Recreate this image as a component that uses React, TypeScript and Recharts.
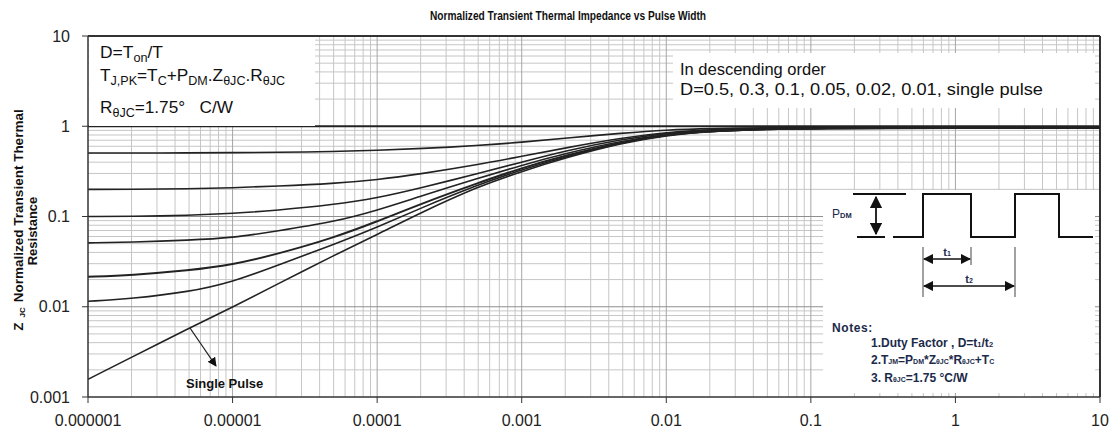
import React from "react";
import { LineChart, Line, XAxis, YAxis, ReferenceLine } from "recharts";

// pulse width (s)
const pulseWidth = [
  1e-6, 2e-6, 5e-6, 1e-5, 2e-5, 5e-5, 1e-4, 2e-4, 5e-4, 1e-3, 2e-3, 5e-3, 1e-2,
  2e-2, 5e-2, 0.1, 1, 10,
];

// normalized Zth, top to bottom
const zD05 = [0.505, 0.505, 0.507, 0.51, 0.513, 0.525, 0.54, 0.565, 0.61, 0.665, 0.74, 0.84, 0.91, 0.945, 0.962, 0.967, 0.972, 0.972];
const zD03 = [0.2, 0.2, 0.203, 0.208, 0.217, 0.232, 0.255, 0.296, 0.375, 0.465, 0.575, 0.745, 0.855, 0.92, 0.95, 0.958, 0.965, 0.965];
const zD01 = [0.1, 0.1, 0.103, 0.108, 0.117, 0.135, 0.16, 0.207, 0.3, 0.4, 0.535, 0.72, 0.84, 0.905, 0.942, 0.953, 0.962, 0.962];
const zD005 = [0.051, 0.052, 0.0546, 0.058, 0.0687, 0.087, 0.117, 0.168, 0.265, 0.37, 0.5, 0.69, 0.815, 0.89, 0.935, 0.95, 0.96, 0.96];
const zD002 = [0.0215, 0.0224, 0.0252, 0.0291, 0.038, 0.058, 0.088, 0.138, 0.236, 0.345, 0.475, 0.672, 0.806, 0.884, 0.93, 0.948, 0.959, 0.959];
const zD001 = [0.0115, 0.0123, 0.0146, 0.0188, 0.0285, 0.049, 0.076, 0.124, 0.225, 0.33, 0.46, 0.665, 0.8, 0.88, 0.928, 0.947, 0.958, 0.958];
const zSingle = [0.00157, 0.00275, 0.0058, 0.0099, 0.0175, 0.037, 0.063, 0.11, 0.215, 0.316, 0.447, 0.655, 0.795, 0.875, 0.925, 0.945, 0.957, 0.957];

const xTicks = [1e-6, 1e-5, 1e-4, 1e-3, 1e-2, 0.1, 1, 10];
const xTickLabels = ["0.000001", "0.00001", "0.0001", "0.001", "0.01", "0.1", "1", "10"];
const yTicks = [0.001, 0.01, 0.1, 1, 10];
const yTickLabels = ["0.001", "0.01", "0.1", "1", "10"];

const seriesKeys = ["d05", "d03", "d01", "d005", "d002", "d001", "single"];

const data = pulseWidth.map((t, i) => ({
  t,
  d05: zD05[i],
  d03: zD03[i],
  d01: zD01[i],
  d005: zD005[i],
  d002: zD002[i],
  d001: zD001[i],
  single: zSingle[i],
}));

// log grid positions
const minorX: number[] = [];
for (let e = -6; e < 1; e++)
  for (let m = 2; m <= 9; m++) minorX.push(Number((m * Math.pow(10, e)).toPrecision(3)));
const majorX = [1e-5, 1e-4, 1e-3, 1e-2, 0.1, 1];
const minorY: number[] = [];
for (let e = -3; e < 1; e++)
  for (let m = 2; m <= 9; m++) minorY.push(Number((m * Math.pow(10, e)).toPrecision(3)));
const majorY = [0.01, 0.1];

const FONT = '"Liberation Sans", Arial, sans-serif';
const NAVY = "#1b2a4a";

const Overlay = () => (
  <svg
    width={1110}
    height={426}
    style={{ position: "absolute", left: 0, top: 0, pointerEvents: "none" }}
    fontFamily={FONT}
  >
    <defs>
      <marker id="ah" viewBox="0 0 10 10" refX="9" refY="5" markerWidth="7" markerHeight="7" orient="auto-start-reverse">
        <path d="M0,0 L10,5 L0,10 z" fill="#111" />
      </marker>
    </defs>

    <text x={560} y={12} textAnchor="middle" fontSize={12} fontWeight="bold" textLength={276} lengthAdjust="spacingAndGlyphs" fill="#111">
      Normalized Transient Thermal Impedance vs Pulse Width
    </text>

    {/* y axis title */}
    <text transform="translate(15,212) rotate(-90)" textAnchor="middle" fontSize={13.5} fontWeight="bold" fill="#111">
      Z<tspan fontSize={8} dy={2} dx={5}>JC</tspan>
      <tspan dy={-2} dx={5}>Normalized Transient Thermal</tspan>
    </text>
    <text transform="translate(29,223) rotate(-90)" textAnchor="middle" fontSize={13} fontWeight="bold" fill="#111">
      Resistance
    </text>

    {/* top-left box */}
    <rect x={81} y={29} width={226} height={89} fill="#fff" />
    <g fontSize={16.5} fill="#111">
      <text x={92} y={50} textLength={63} lengthAdjust="spacingAndGlyphs">
        D=T<tspan fontSize={12} dy={4}>on</tspan>
        <tspan dy={-4}>/T</tspan>
      </text>
      <text x={92} y={73} textLength={185} lengthAdjust="spacingAndGlyphs">
        T<tspan fontSize={12} dy={4}>J,PK</tspan>
        <tspan dy={-4}>=T</tspan>
        <tspan fontSize={12} dy={4}>C</tspan>
        <tspan dy={-4}>+P</tspan>
        <tspan fontSize={12} dy={4}>DM</tspan>
        <tspan dy={-4}>.Z</tspan>
        <tspan fontSize={12} dy={4}>θJC</tspan>
        <tspan dy={-4}>.R</tspan>
        <tspan fontSize={12} dy={4}>θJC</tspan>
      </text>
      <text x={92} y={105} textLength={133} lengthAdjust="spacingAndGlyphs">
        R<tspan fontSize={12} dy={4}>θJC</tspan>
        <tspan dy={-4}>=1.75°{"\u00a0\u00a0\u00a0"}C/W</tspan>
      </text>
    </g>

    {/* legend box */}
    <rect x={665} y={45} width={422} height={55} fill="#fff" />
    <g fontSize={16.5} fill="#111">
      <text x={672} y={67}>In descending order</text>
      <text x={672} y={87} textLength={363} lengthAdjust="spacingAndGlyphs">
        D=0.5, 0.3, 0.1, 0.05, 0.02, 0.01, single pulse
      </text>
    </g>

    {/* inset */}
    <rect x={815} y={182} width={272} height={203} fill="#fff" />
    <text x={824} y={210} fontSize={12} fill={NAVY}>
      P<tspan fontSize={7.5} fontWeight="bold">DM</tspan>
    </text>
    <line x1={845} y1={186} x2={898} y2={186} stroke="#111" strokeWidth={2} />
    <line x1={849} y1={229} x2={877} y2={229} stroke="#111" strokeWidth={2} />
    <line x1={868} y1={189} x2={868} y2={226} stroke="#111" strokeWidth={1.8} markerStart="url(#ah)" markerEnd="url(#ah)" />
    <polyline
      points="885,229 915,229 915,186 963,186 963,229 1007,229 1007,186 1051,186 1051,229 1085,229"
      fill="none"
      stroke="#111"
      strokeWidth={2}
    />
    <line x1={915} y1={239} x2={915} y2={289} stroke="#444" strokeWidth={1} />
    <line x1={963} y1={239} x2={963} y2={257} stroke="#444" strokeWidth={1} />
    <line x1={1007} y1={239} x2={1007} y2={289} stroke="#444" strokeWidth={1} />
    <line x1={916} y1={251} x2={962} y2={251} stroke="#111" strokeWidth={1.5} markerStart="url(#ah)" markerEnd="url(#ah)" />
    <line x1={916} y1={278} x2={1006} y2={278} stroke="#111" strokeWidth={1.5} markerStart="url(#ah)" markerEnd="url(#ah)" />
    <text x={939} y={248} textAnchor="middle" fontSize={11} fontWeight="bold" fill={NAVY}>
      t<tspan fontSize={7}>1</tspan>
    </text>
    <text x={961} y={275} textAnchor="middle" fontSize={11} fontWeight="bold" fill={NAVY}>
      t<tspan fontSize={7}>2</tspan>
    </text>

    {/* notes */}
    <g fontSize={12} fontWeight="bold" fill={NAVY}>
      <text x={824} y={324} letterSpacing={0.6}>Notes:</text>
      <text x={863} y={339}>
        1.Duty Factor , D=t<tspan fontSize={7.5}>1</tspan>
        <tspan>/t</tspan>
        <tspan fontSize={7.5}>2</tspan>
      </text>
      <text x={863} y={356}>
        2.T<tspan fontSize={7}>JM</tspan>
        <tspan>=P</tspan>
        <tspan fontSize={7}>DM</tspan>
        <tspan>*Z</tspan>
        <tspan fontSize={7}>θJC</tspan>
        <tspan>*R</tspan>
        <tspan fontSize={7}>θJC</tspan>
        <tspan>+T</tspan>
        <tspan fontSize={7}>C</tspan>
      </text>
      <text x={863} y={374}>
        3. R<tspan fontSize={7}>θJC</tspan>
        <tspan>=1.75 °C/W</tspan>
      </text>
    </g>

    {/* single pulse callout */}
    <line x1={182} y1={320} x2={208} y2={358} stroke="#222" strokeWidth={1.3} markerEnd="url(#ah)" />
    <text x={178} y={380} fontSize={13} fontWeight="bold" fill="#111">
      Single Pulse
    </text>
  </svg>
);

export default function App() {
  return (
    <div style={{ position: "relative", width: 1110, height: 426, fontFamily: FONT }}>
      <LineChart width={1110} height={420} data={data} margin={{ top: 28, right: 18, bottom: 1, left: 0 }}>
        <XAxis
          dataKey="t"
          type="number"
          scale="log"
          domain={[1e-6, 10]}
          ticks={xTicks}
          tickFormatter={(v, i) => xTickLabels[i]}
          allowDataOverflow
          height={30}
          tickSize={6}
          tickMargin={12}
          stroke="#333"
          tick={{ fill: "#222", fontSize: 16 }}
          axisLine={{ stroke: "#333", strokeWidth: 1.5 }}
          tickLine={{ stroke: "#333" }}
          interval={0}
        />
        <YAxis
          type="number"
          scale="log"
          domain={[0.001, 10]}
          ticks={yTicks}
          tickFormatter={(v, i) => yTickLabels[i]}
          allowDataOverflow
          width={80}
          tickSize={6}
          tickMargin={12}
          tick={{ fill: "#222", fontSize: 16 }}
          axisLine={{ stroke: "#333", strokeWidth: 1.5 }}
          tickLine={{ stroke: "#333" }}
          interval={0}
        />
        {minorX.map((v) => (
          <ReferenceLine key={"mx" + v} x={v} stroke="#c6c6c6" strokeWidth={1} />
        ))}
        {minorY.map((v) => (
          <ReferenceLine key={"my" + v} y={v} stroke="#c6c6c6" strokeWidth={1} />
        ))}
        {majorX.map((v) => (
          <ReferenceLine key={"Mx" + v} x={v} stroke="#a6a6a6" strokeWidth={1} />
        ))}
        {majorY.map((v) => (
          <ReferenceLine key={"My" + v} y={v} stroke="#8f8f8f" strokeWidth={1} />
        ))}
        <ReferenceLine y={1} stroke="#222" strokeWidth={2} />
        <ReferenceLine y={10} stroke="#333" strokeWidth={2} />
        <ReferenceLine x={10} stroke="#333" strokeWidth={2} />
        {seriesKeys.map((k) => (
          <Line
            key={k}
            dataKey={k}
            type="basis"
            stroke="#222"
            strokeWidth={k === "d002" ? 2 : 1.6}
            dot={false}
            isAnimationActive={false}
          />
        ))}
      </LineChart>
      <Overlay />
    </div>
  );
}
